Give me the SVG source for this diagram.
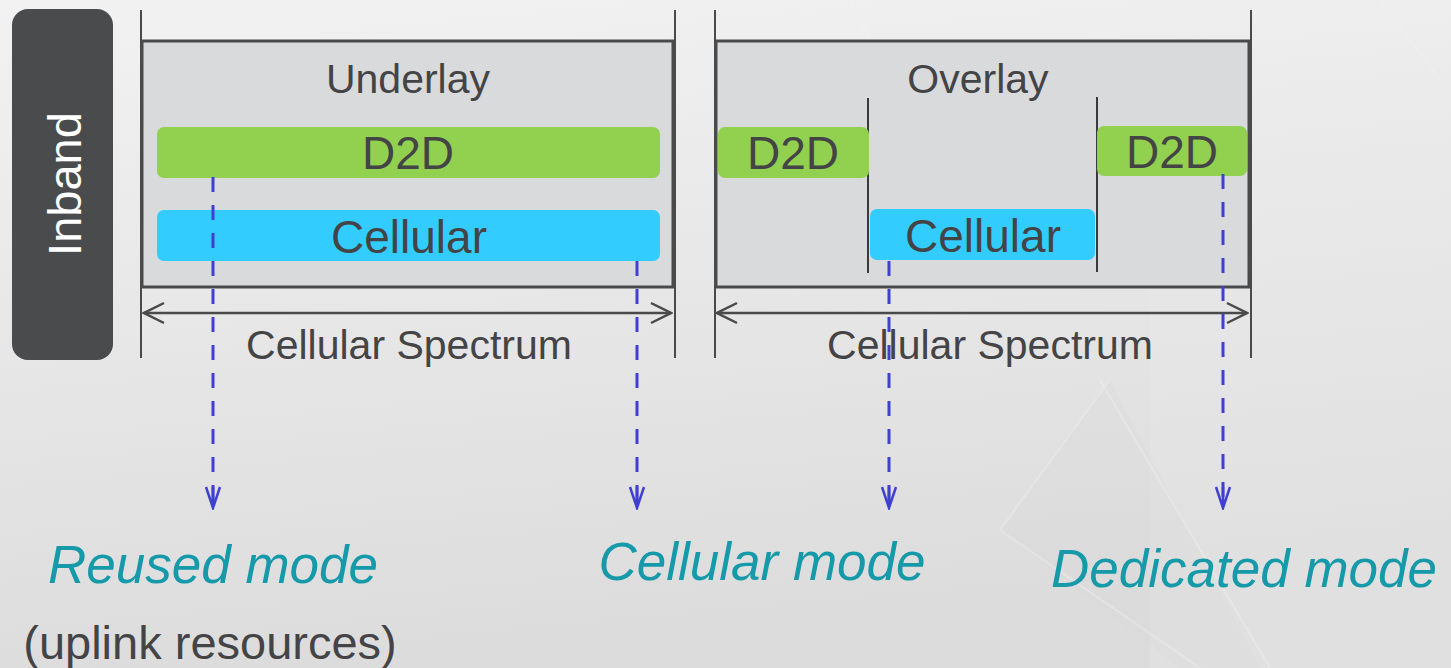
<svg xmlns="http://www.w3.org/2000/svg" width="1451" height="668" viewBox="0 0 1451 668">
<defs>
<linearGradient id="bg" x1="0" y1="0" x2="0.2" y2="1">
<stop offset="0" stop-color="#f2f2f2"/>
<stop offset="1" stop-color="#dcdcdc"/>
</linearGradient>
<marker id="chev" viewBox="-22 -12 24 24" markerWidth="24" markerHeight="24" refX="0" refY="0" orient="auto-start-reverse" markerUnits="userSpaceOnUse">
<path d="M-20,-10 L0,0 L-20,10" fill="none" stroke="#4a4a4a" stroke-width="2.5"/>
</marker>
<marker id="blueHead" viewBox="-12 -24 24 26" markerWidth="24" markerHeight="26" refX="0" refY="0" orient="0" markerUnits="userSpaceOnUse">
<path d="M-7,-21 L0,0 L7,-21 M0,-21 L0,0" fill="none" stroke="#4040d0" stroke-width="2.5" stroke-dasharray="none"/>
</marker>
<style>
.tick{stroke:#4a4a4a;stroke-width:2;fill:none}
.panel{fill:#d9dadc;stroke:#4a4a4a;stroke-width:3}
.d2d{fill:#92d050}
.cell{fill:#33ccff}
.lbl{font-family:"Liberation Sans",Arial,sans-serif;fill:#444446;text-anchor:middle}
.title{font-size:41px}
.bar{font-size:46px}
.mode{font-family:"Liberation Sans",Arial,sans-serif;font-style:italic;font-size:53px;fill:#1699a9;text-anchor:middle}
.dim{stroke:#4a4a4a;stroke-width:2.5;fill:none;marker-start:url(#chev);marker-end:url(#chev)}
.dash{stroke:#4040d0;stroke-width:3;stroke-dasharray:15 13;fill:none;marker-end:url(#blueHead)}
.inner{stroke:#3a3a3a;stroke-width:2;fill:none}
</style>
</defs>
<rect x="0" y="0" width="1451" height="668" fill="url(#bg)"/>
<g id="background-shapes">
<polygon points="1150,80 1451,80 1451,668 1150,668" fill="#ebebeb" opacity="0.25"/>
<polygon points="1000,530 1110,380 1260,668 1180,668" fill="#d6d6d6" opacity="0.25"/>
<path d="M790,0 L860,40 M850,0 L870,40 M1380,0 L1440,80 M1000,530 L1110,380 M1100,380 L1270,668 M1000,530 L1200,668" stroke="#f4f4f4" stroke-width="2" fill="none" opacity="0.35"/>
</g>
<g id="inband">
<rect x="12" y="9" width="101" height="351" rx="16" ry="16" fill="#4a4b4d"/>
<text x="0" y="0" transform="translate(81,184) rotate(-90)" font-family="Liberation Sans, Arial, sans-serif" font-size="47" fill="#ffffff" text-anchor="middle">Inband</text>
</g>
<g id="underlay">
<line class="tick" x1="141" y1="10" x2="141" y2="358"/>
<line class="tick" x1="675" y1="10" x2="675" y2="358"/>
<rect class="panel" x="142" y="41" width="531" height="246"/>
<text class="lbl title" x="408" y="93">Underlay</text>
</g>
<g id="underlay-d2d">
<rect class="d2d" x="157" y="127" width="503" height="51" rx="7"/>
<text class="lbl bar" x="408" y="169">D2D</text>
</g>
<g id="underlay-cellular">
<rect class="cell" x="157" y="210" width="503" height="51" rx="7"/>
<text class="lbl bar" x="409" y="253">Cellular</text>
</g>
<g id="underlay-spectrum">
<line class="dim" x1="144" y1="313" x2="671" y2="313"/>
<text class="lbl title" x="409" y="359">Cellular Spectrum</text>
</g>
<g id="overlay">
<line class="tick" x1="715" y1="10" x2="715" y2="358"/>
<line class="tick" x1="1251" y1="10" x2="1251" y2="358"/>
<rect class="panel" x="716" y="41" width="533" height="246"/>
<text class="lbl title" x="978" y="93">Overlay</text>
<line class="inner" x1="868" y1="98" x2="868" y2="273"/>
<line class="inner" x1="1097" y1="97" x2="1097" y2="272"/>
</g>
<g id="overlay-d2d-left">
<rect class="d2d" x="718" y="127" width="151" height="51" rx="7"/>
<text class="lbl bar" x="793" y="169">D2D</text>
</g>
<g id="overlay-d2d-right">
<rect class="d2d" x="1097" y="126" width="150" height="50" rx="7"/>
<text class="lbl bar" x="1172" y="168">D2D</text>
</g>
<g id="overlay-cellular">
<rect class="cell" x="870" y="209" width="225" height="51" rx="7"/>
<text class="lbl bar" x="983" y="252">Cellular</text>
</g>
<g id="overlay-spectrum">
<line class="dim" x1="717" y1="313" x2="1247" y2="313"/>
<text class="lbl title" x="990" y="359">Cellular Spectrum</text>
</g>
<g id="connectors">
<line class="dash" x1="213" y1="177" x2="213" y2="508"/>
<line class="dash" x1="637" y1="261" x2="637" y2="508"/>
<line class="dash" x1="889" y1="261" x2="889" y2="508"/>
<line class="dash" x1="1223" y1="174" x2="1223" y2="508"/>
</g>
<g id="mode-reused">
<text class="mode" x="213" y="583">Reused mode</text>
<text x="210" y="659" font-family="Liberation Sans, Arial, sans-serif" font-size="47" fill="#444446" text-anchor="middle">(uplink resources)</text>
</g>
<g id="mode-cellular">
<text class="mode" x="762" y="580">Cellular mode</text>
</g>
<g id="mode-dedicated">
<text class="mode" x="1244" y="587">Dedicated mode</text>
</g>
</svg>
